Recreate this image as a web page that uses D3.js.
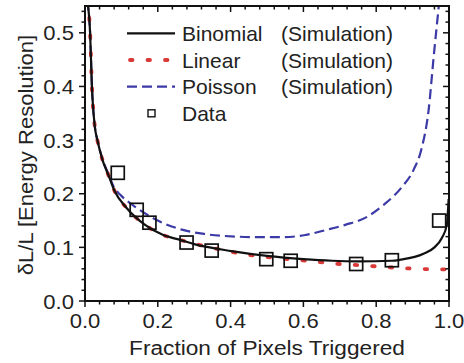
<!DOCTYPE html>
<html><head><meta charset="utf-8">
<script src="https://cdn.jsdelivr.net/npm/d3@7"></script>
<style>body{margin:0;background:#fff}svg{display:block}text{font-family:"Liberation Sans",Arial,sans-serif;fill:#222}</style>
</head><body><svg id="c" width="464" height="363"></svg>
<script>
const binomialX = [0.006,0.014,0.019,0.027,0.034,0.048,0.066,0.080,0.115,0.165,0.215,0.261,0.300,0.403,0.500,0.600,0.679,0.750,0.843,0.867,0.930,0.960,0.980,0.994,0.999];
const binomialY = [0.56,0.50,0.40,0.325,0.300,0.263,0.232,0.207,0.173,0.142,0.123,0.114,0.106,0.093,0.084,0.078,0.075,0.074,0.075,0.077,0.088,0.100,0.117,0.142,0.190];
const linearX = [0.006,0.014,0.019,0.027,0.034,0.048,0.066,0.080,0.115,0.165,0.215,0.261,0.300,0.350,0.422,0.500,0.560,0.624,0.700,0.770,0.880,0.980,1.000];
const linearY = [0.56,0.50,0.40,0.325,0.300,0.263,0.232,0.207,0.173,0.142,0.123,0.114,0.107,0.099,0.089,0.082,0.078,0.074,0.069,0.066,0.061,0.059,0.059];
const poissonX = [0.006,0.014,0.019,0.027,0.034,0.048,0.066,0.078,0.100,0.133,0.197,0.266,0.327,0.418,0.477,0.541,0.605,0.660,0.715,0.775,0.820,0.870,0.903,0.925,0.944,0.958,0.975];
const poissonY = [0.56,0.50,0.40,0.325,0.300,0.265,0.234,0.214,0.196,0.178,0.151,0.133,0.125,0.120,0.119,0.119,0.123,0.132,0.142,0.157,0.179,0.212,0.245,0.285,0.356,0.456,0.570];
const dataX = [0.090,0.142,0.177,0.279,0.348,0.498,0.565,0.745,0.843,0.973];
const dataY = [0.239,0.170,0.146,0.109,0.094,0.078,0.075,0.069,0.076,0.150];
const xTicks = [0.0,0.2,0.4,0.6,0.8,1.0];
const yTicks = [0.0,0.1,0.2,0.3,0.4,0.5];
const legendLabels = ["Binomial","Linear","Poisson","Data"];
const legendNotes = ["(Simulation)","(Simulation)","(Simulation)",""];

const svg = d3.select("#c");
const L=85,R=449,T=6,B=301;
const x = d3.scaleLinear().domain([0,1]).range([L,R]);
const y = d3.scaleLinear().domain([0,0.55]).range([B,T]);

svg.append("defs").append("clipPath").attr("id","clip").append("rect")
  .attr("x",L).attr("y",T).attr("width",R-L).attr("height",B-T);

const line = d3.line().x(d=>x(d[0])).y(d=>y(d[1])).curve(d3.curveMonotoneX);
const g = svg.append("g").attr("clip-path","url(#clip)");
const zip=(a,b)=>a.map((v,i)=>[v,b[i]]);
g.append("path").attr("d",line(zip(poissonX,poissonY))).attr("fill","none")
  .attr("stroke","#3b3aa6").attr("stroke-width",2.2).attr("stroke-dasharray","10,5");
g.append("path").attr("d",line(zip(linearX,linearY))).attr("fill","none")
  .attr("stroke","#d93a38").attr("stroke-width",3.8).attr("stroke-linecap","round").attr("stroke-dasharray","2.5,15");
g.append("path").attr("d",line(zip(binomialX,binomialY))).attr("fill","none")
  .attr("stroke","#111").attr("stroke-width",2.2);

svg.append("g").selectAll("rect").data(zip(dataX,dataY)).join("rect")
  .attr("x",d=>x(d[0])-6.5).attr("y",d=>y(d[1])-6.5).attr("width",13).attr("height",13)
  .attr("fill","none").attr("stroke","#111").attr("stroke-width",1.7);

// axes
const xMinor = d3.range(0,1.0001,0.04);
const yMinor = d3.range(0,0.5501,0.02);
const ax = svg.append("g").attr("stroke","#111");
xMinor.forEach(v=>{
  const major = xTicks.some(t=>Math.abs(t-v)<1e-6);
  const len = major?6:3.5;
  ax.append("line").attr("x1",x(v)).attr("x2",x(v)).attr("y1",B).attr("y2",B+len).attr("stroke-width",1.5);
  ax.append("line").attr("x1",x(v)).attr("x2",x(v)).attr("y1",T).attr("y2",T+len).attr("stroke-width",1.5);
});
yMinor.forEach(v=>{
  const major = yTicks.some(t=>Math.abs(t-v)<1e-6);
  const len = major?6:3.5;
  ax.append("line").attr("x1",L-len).attr("x2",L).attr("y1",y(v)).attr("y2",y(v)).attr("stroke-width",1.5);
  ax.append("line").attr("x1",R-len).attr("x2",R).attr("y1",y(v)).attr("y2",y(v)).attr("stroke-width",1.5);
});
svg.append("rect").attr("x",L).attr("y",T).attr("width",R-L).attr("height",B-T)
  .attr("fill","none").attr("stroke","#111").attr("stroke-width",2);

svg.append("g").selectAll("text").data(xTicks).join("text")
  .attr("transform",d=>`translate(${x(d)},328) scale(1.05,1)`).attr("text-anchor","middle").attr("font-size",21)
  .text(d=>d.toFixed(1));
svg.append("g").selectAll("text").data(yTicks).join("text")
  .attr("transform",d=>`translate(74,${y(d)+7.5}) scale(1.05,1)`).attr("text-anchor","end").attr("font-size",21)
  .text(d=>d.toFixed(1));

svg.append("text").attr("transform",`translate(${(L+R)/2},355) scale(1.08,1)`).attr("text-anchor","middle").attr("font-size",21)
  .text("Fraction of Pixels Triggered");
svg.append("text").attr("transform","translate(33,155) rotate(-90) scale(1.05,1)").attr("text-anchor","middle")
  .attr("font-size",21).text("δL/L [Energy Resolution]");

// legend
const rows=[33.3,60,86.7,113.3];
const lg = svg.append("g");
lg.append("line").attr("x1",127).attr("x2",175).attr("y1",rows[0]).attr("y2",rows[0]).attr("stroke","#111").attr("stroke-width",2.2);
lg.append("line").attr("x1",130).attr("x2",175).attr("y1",rows[1]).attr("y2",rows[1]).attr("stroke","#d93a38").attr("stroke-width",3.8).attr("stroke-linecap","round").attr("stroke-dasharray","2.5,15");
lg.append("line").attr("x1",127).attr("x2",175).attr("y1",rows[2]).attr("y2",rows[2]).attr("stroke","#3b3aa6").attr("stroke-width",2.2).attr("stroke-dasharray","10,5");
lg.append("rect").attr("x",148).attr("y",rows[3]-3.5).attr("width",7).attr("height",7).attr("fill","none").attr("stroke","#111").attr("stroke-width",1.4);
lg.selectAll("text.l").data(legendLabels).join("text").attr("class","l")
  .attr("x",182).attr("y",(d,i)=>rows[i]+7.5).attr("font-size",21).text(d=>d);
lg.selectAll("text.n").data(legendNotes).join("text").attr("class","n")
  .attr("x",281).attr("y",(d,i)=>rows[i]+7.5).attr("font-size",21).text(d=>d);
</script></body></html>
